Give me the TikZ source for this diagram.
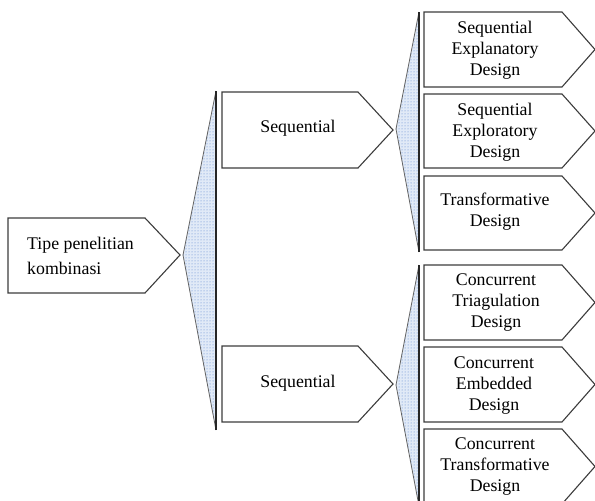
\documentclass[tikz,border=0pt]{standalone}
\usepackage{fontspec}
\setmainfont{Liberation Serif}
\usetikzlibrary{patterns}
\definecolor{edge}{RGB}{60,60,60}
\definecolor{dotblue}{RGB}{85,130,205}
\definecolor{bracefill}{RGB}{225,234,247}
\tikzset{
  arrowbox/.style={draw=edge, line width=1.1pt, fill=white, line join=miter},
  brace/.style={preaction={fill=bracefill}, pattern=dots, pattern color=dotblue},
  braceside/.style={draw=edge!80, line width=0.8pt},
  braceback/.style={draw=black!85, line width=2.2pt},
  boxtext/.style={font=\fontsize{17.8}{21}\selectfont, align=center, inner sep=0pt},
  lefttext/.style={font=\fontsize{17.8}{25}\selectfont, align=left, inner sep=0pt, anchor=west}
}
\begin{document}
\begin{tikzpicture}[x=1pt,y=-1pt]
\useasboundingbox (0,0) rectangle (595,501);
% braces (dotted triangles)
\coordinate (b1a) at (183,255); \coordinate (b1t) at (216,91); \coordinate (b1b) at (216,430);
\coordinate (b2a) at (396,129); \coordinate (b2t) at (419,12); \coordinate (b2b) at (419,252);
\coordinate (b3a) at (396,385); \coordinate (b3t) at (419,265); \coordinate (b3b) at (419,506);
\foreach \n in {1,2,3}{
  \fill[brace] (b\n a) -- (b\n t) -- (b\n b) -- cycle;
  \draw[braceside] (b\n t) -- (b\n a) -- (b\n b);
  \draw[braceback] (b\n t) -- (b\n b);
}
% left box
\draw[arrowbox] (8,218) -- (145,218) -- (180,255) -- (145,293) -- (8,293) -- cycle;
\node[lefttext] (tipe) at (27,256) {Tipe penelitian\\kombinasi};
% middle boxes
\draw[arrowbox] (222,92) -- (358,92) -- (393,130) -- (358,168) -- (222,168) -- cycle;
\node[boxtext] (seq1) at (298,128) {Sequential};
\draw[arrowbox] (222,346) -- (358,346) -- (393,384) -- (358,422) -- (222,422) -- cycle;
\node[boxtext] (seq2) at (298,383) {Sequential};
% right boxes
\foreach \t/\b in {12/87, 94/168, 176/250, 265/340, 347/422, 429/504}{
  \draw[arrowbox] (424,\t) -- (562,\t) -- (595,{(\t+\b)/2}) -- (562,\b) -- (424,\b) -- cycle;
}
\node[boxtext] (r1) at (495,50) {Sequential\\Explanatory\\Design};
\node[boxtext] (r2) at (495,132) {Sequential\\Exploratory\\Design};
\node[boxtext] (r3) at (495,212) {Transformative\\Design};
\node[boxtext] (r4) at (496,303) {Concurrent\\Triagulation\\Design};
\node[boxtext] (r5) at (494,386) {Concurrent\\Embedded\\Design};
\node[boxtext] (r6) at (495,467) {Concurrent\\Transformative\\Design};
\end{tikzpicture}
\end{document}
